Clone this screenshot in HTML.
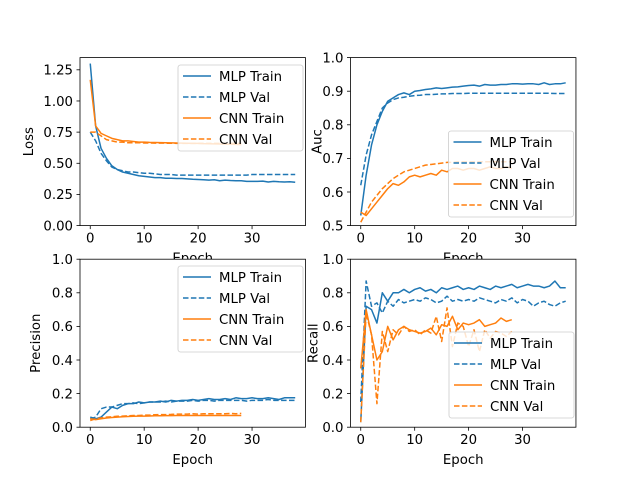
<!DOCTYPE html>
<html><head><meta charset="utf-8"><style>
html,body{margin:0;padding:0;background:#fff}
svg{display:block;font-family:"DejaVu Sans","Liberation Sans",sans-serif}
</style></head><body>
<svg id="fig" width="640" height="480" viewBox="0 0 640 480"></svg>
<script>
const epochsMLP = Array.from({length:39},(_,i)=>i);
const epochsCNN = Array.from({length:29},(_,i)=>i);
const lossMlpTrain=[1.30,0.80,0.62,0.54,0.48,0.45,0.43,0.42,0.41,0.40,0.395,0.39,0.385,0.385,0.38,0.38,0.378,0.378,0.375,0.372,0.37,0.368,0.365,0.368,0.36,0.365,0.362,0.36,0.36,0.355,0.355,0.355,0.357,0.35,0.355,0.352,0.35,0.352,0.348];
const lossMlpVal=[0.75,0.68,0.58,0.52,0.47,0.45,0.44,0.43,0.43,0.425,0.42,0.42,0.415,0.41,0.41,0.41,0.405,0.405,0.405,0.405,0.405,0.405,0.405,0.405,0.405,0.405,0.405,0.405,0.405,0.405,0.41,0.41,0.41,0.41,0.41,0.41,0.41,0.41,0.41];
const lossCnnTrain=[1.17,0.80,0.74,0.72,0.70,0.69,0.68,0.68,0.675,0.67,0.67,0.668,0.667,0.666,0.665,0.664,0.663,0.662,0.661,0.66,0.66,0.658,0.657,0.656,0.655,0.654,0.653,0.652,0.65];
const lossCnnVal=[0.75,0.75,0.72,0.69,0.68,0.67,0.67,0.665,0.665,0.665,0.663,0.663,0.662,0.662,0.661,0.661,0.66,0.66,0.66,0.66,0.66,0.66,0.66,0.66,0.66,0.66,0.66,0.66,0.66];
const aucMlpTrain=[0.53,0.65,0.74,0.80,0.84,0.87,0.88,0.89,0.895,0.89,0.90,0.902,0.905,0.907,0.91,0.908,0.91,0.912,0.913,0.915,0.917,0.918,0.915,0.92,0.918,0.918,0.92,0.92,0.922,0.922,0.921,0.922,0.922,0.92,0.925,0.92,0.922,0.922,0.925];
const aucMlpVal=[0.62,0.71,0.77,0.81,0.85,0.865,0.875,0.88,0.882,0.885,0.887,0.888,0.89,0.89,0.891,0.892,0.892,0.893,0.893,0.893,0.894,0.894,0.894,0.894,0.894,0.894,0.894,0.894,0.894,0.894,0.894,0.894,0.894,0.894,0.894,0.894,0.893,0.893,0.893];
const aucCnnTrain=[0.54,0.53,0.55,0.57,0.59,0.61,0.625,0.62,0.63,0.645,0.65,0.645,0.65,0.655,0.65,0.665,0.66,0.67,0.67,0.665,0.67,0.67,0.665,0.67,0.675,0.67,0.67,0.675,0.67];
const aucCnnVal=[0.51,0.54,0.57,0.59,0.61,0.625,0.64,0.65,0.66,0.665,0.67,0.675,0.68,0.682,0.684,0.686,0.688,0.688,0.69,0.69,0.69,0.69,0.69,0.69,0.69,0.69,0.69,0.69,0.69];
const precMlpTrain=[0.06,0.05,0.06,0.09,0.12,0.11,0.13,0.14,0.14,0.15,0.145,0.15,0.15,0.155,0.15,0.16,0.155,0.16,0.16,0.165,0.16,0.165,0.17,0.165,0.165,0.17,0.165,0.175,0.17,0.17,0.175,0.17,0.17,0.175,0.17,0.165,0.175,0.175,0.175];
const precMlpVal=[0.05,0.06,0.11,0.12,0.12,0.13,0.14,0.14,0.145,0.14,0.145,0.15,0.15,0.15,0.155,0.15,0.155,0.155,0.155,0.16,0.155,0.16,0.16,0.155,0.16,0.16,0.16,0.16,0.16,0.155,0.16,0.16,0.16,0.165,0.16,0.16,0.16,0.16,0.16];
const precCnnTrain=[0.05,0.045,0.05,0.055,0.058,0.06,0.062,0.064,0.065,0.066,0.066,0.067,0.068,0.068,0.069,0.069,0.07,0.07,0.07,0.07,0.07,0.07,0.07,0.07,0.07,0.07,0.07,0.07,0.07];
const precCnnVal=[0.04,0.05,0.055,0.06,0.062,0.065,0.066,0.068,0.07,0.07,0.072,0.072,0.074,0.075,0.075,0.076,0.078,0.078,0.078,0.08,0.078,0.08,0.08,0.08,0.08,0.08,0.082,0.08,0.082];
const recMlpTrain=[0.03,0.72,0.70,0.62,0.80,0.75,0.80,0.80,0.82,0.80,0.82,0.83,0.81,0.82,0.80,0.83,0.82,0.83,0.84,0.82,0.83,0.82,0.84,0.83,0.82,0.84,0.83,0.84,0.85,0.83,0.84,0.85,0.84,0.84,0.83,0.84,0.87,0.83,0.83];
const recMlpVal=[0.15,0.87,0.72,0.74,0.68,0.75,0.72,0.76,0.74,0.75,0.76,0.75,0.77,0.76,0.74,0.75,0.78,0.75,0.76,0.75,0.76,0.75,0.77,0.76,0.75,0.74,0.76,0.75,0.77,0.74,0.76,0.75,0.72,0.74,0.75,0.73,0.72,0.74,0.75];
const recCnnTrain=[0.35,0.70,0.55,0.40,0.45,0.60,0.52,0.58,0.60,0.58,0.57,0.56,0.57,0.59,0.55,0.61,0.60,0.66,0.58,0.62,0.61,0.62,0.64,0.60,0.61,0.62,0.65,0.63,0.64];
const recCnnVal=[0.03,0.68,0.55,0.14,0.57,0.45,0.58,0.55,0.60,0.57,0.58,0.55,0.58,0.56,0.66,0.51,0.71,0.48,0.62,0.60,0.48,0.58,0.45,0.58,0.53,0.57,0.56,0.54,0.57];
const xTicks=[0,10,20,30];
const lossTicks=[0,0.25,0.5,0.75,1.0,1.25];
const lossTickLabels=["0.00","0.25","0.50","0.75","1.00","1.25"];
const aucTicks=[0.5,0.6,0.7,0.8,0.9,1.0];
const aucTickLabels=["0.5","0.6","0.7","0.8","0.9","1.0"];
const unitTicks=[0,0.2,0.4,0.6,0.8,1.0];
const unitTickLabels=["0.0","0.2","0.4","0.6","0.8","1.0"];
const legendLabels=["MLP Train","MLP Val","CNN Train","CNN Val"];

const NS="http://www.w3.org/2000/svg";
const svg=document.getElementById('fig');
function mk(tag,attrs,parent){const e=document.createElementNS(NS,tag);for(const k in attrs)e.setAttribute(k,attrs[k]);(parent||svg).appendChild(e);return e;}
const BLUE="#1f77b4",ORANGE="#ff7f0e";
const W=225.45,H=168;
const panels=[
 {name:'loss',x:80,y:57.6,ylim:[0,1.348],ticks:lossTicks,labels:lossTickLabels,ylabel:'Loss',ylx:-52,series:[lossMlpTrain,lossMlpVal,lossCnnTrain,lossCnnVal],leg:[178,65]},
 {name:'auc',x:350.5,y:57.6,ylim:[0.5,1.0],ticks:aucTicks,labels:aucTickLabels,ylabel:'Auc',ylx:-34,series:[aucMlpTrain,aucMlpVal,aucCnnTrain,aucCnnVal],leg:[448.5,131]},
 {name:'precision',x:80,y:259.2,ylim:[0,1],ticks:unitTicks,labels:unitTickLabels,ylabel:'Precision',ylx:-45,series:[precMlpTrain,precMlpVal,precCnnTrain,precCnnVal],leg:[178,266]},
 {name:'recall',x:350.5,y:259.2,ylim:[0,1],ticks:unitTicks,labels:unitTickLabels,ylabel:'Recall',ylx:-38,series:[recMlpTrain,recMlpVal,recCnnTrain,recCnnVal],leg:[449,332]}
];
const xlim=[-1.9,39.9];
const styles=[[BLUE,null],[BLUE,"5.5,2.4"],[ORANGE,null],[ORANGE,"5.5,2.4"]];
panels.forEach(p=>{
 const g=mk('g',{});
 
 
 const xs=v=>p.x+(v-xlim[0])/(xlim[1]-xlim[0])*W;
 const ys=v=>p.y+H-(v-p.ylim[0])/(p.ylim[1]-p.ylim[0])*H;
 const bg=mk('rect',{x:p.x,y:p.y,width:W,height:H,fill:'#fff'},g);
 
 
 const cp='clip-'+p.name;
 const cl=mk('clipPath',{id:cp},g);mk('rect',{x:p.x,y:p.y,width:W,height:H},cl);
 p.series.forEach((s,i)=>{
  const xsArr=i<2?epochsMLP:epochsCNN;
  const pts=s.map((v,j)=>xs(xsArr[j]).toFixed(2)+','+ys(v).toFixed(2)).join(' ');
  const a={points:pts,fill:'none',stroke:styles[i][0],'stroke-width':1.5,'clip-path':'url(#'+cp+')','stroke-linejoin':'round'};
  if(styles[i][1])a['stroke-dasharray']=styles[i][1];
  const l=mk('polyline',a,g);
  
  
 });
 const fr=mk('rect',{x:p.x,y:p.y,width:W,height:H,fill:'none',stroke:'#000','stroke-width':0.8},g);
 
 
 xTicks.forEach(t=>{
  const X=xs(t);
  mk('line',{x1:X,x2:X,y1:p.y+H,y2:p.y+H+3.5,stroke:'#000','stroke-width':0.8},g);
  const tx=mk('text',{x:X,y:p.y+H+17,'font-size':13.3,'text-anchor':'middle'},g);tx.textContent=t;
  
  
 });
 p.ticks.forEach((t,i)=>{
  const Y=ys(t);
  mk('line',{x1:p.x-3.5,x2:p.x,y1:Y,y2:Y,stroke:'#000','stroke-width':0.8},g);
  const tx=mk('text',{x:p.x-7,y:Y+4.8,'font-size':13.3,'text-anchor':'end'},g);tx.textContent=p.labels[i];
  
  
 });
 const xl=mk('text',{x:p.x+W/2,y:p.y+H+37,'font-size':13.3,'text-anchor':'middle'},g);xl.textContent='Epoch';
 
 
 const lx=p.x+p.ylx+5;
 const yl=mk('text',{x:lx,y:p.y+H/2,'font-size':13.3,'text-anchor':'middle',transform:`rotate(-90 ${lx} ${p.y+H/2})`},g);yl.textContent=p.ylabel;
 
 
 const [lx0,ly0]=p.leg;
 const lg=mk('g',{},g);
 
 
 mk('rect',{x:lx0,y:ly0,width:125,height:86,rx:2.5,fill:'#fff','fill-opacity':0.8,stroke:'#ccc','stroke-width':0.8},lg);
 legendLabels.forEach((lab,i)=>{
  const yy=ly0+11+i*21;
  const a={x1:lx0+5,x2:lx0+33,y1:yy,y2:yy,stroke:styles[i][0],'stroke-width':1.5};
  if(styles[i][1])a['stroke-dasharray']=styles[i][1];
  mk('line',a,lg);
  const t=mk('text',{x:lx0+41,y:yy+4.8,'font-size':13.3},lg);t.textContent=lab;
  
  
 });
});
</script>
</body></html>
